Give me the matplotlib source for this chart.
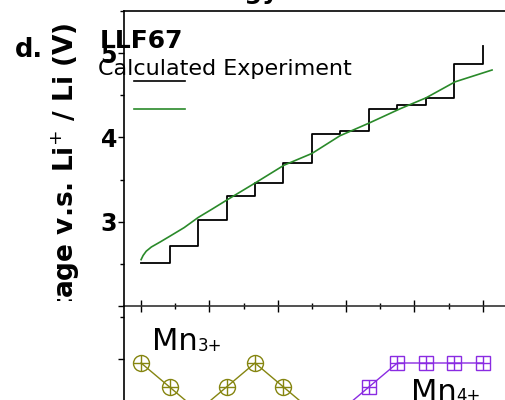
import numpy as np
import matplotlib
matplotlib.use('Agg')
import matplotlib.pyplot as plt
from matplotlib.lines import Line2D
from matplotlib.ticker import MultipleLocator
from matplotlib.transforms import Bbox, TransformedBbox

# experiment: 12 plateaus, last value is the end point
exp_x = np.arange(13) / 12.0
exp_v = [2.51, 2.71, 3.02, 3.30, 3.46, 3.70, 4.04, 4.08, 4.34, 4.38, 4.47, 4.87, 5.08]

# calculated curve
calc_x = [0.0, 0.006, 0.015, 0.03, 0.056, 0.085, 0.126, 0.167, 0.208, 0.252, 0.334,
          0.418, 0.50, 0.582, 0.667, 0.758, 0.834, 0.919, 1.027]
calc_v = [2.55, 2.60, 2.65, 2.70, 2.76, 2.83, 2.93, 3.05, 3.15, 3.26, 3.46,
          3.67, 3.81, 4.02, 4.17, 4.34, 4.47, 4.66, 4.80]

# Mn oxidation states in the lower panel
mn_x = np.arange(13) / 12.0
mn3 = [2, 1, 0, 1, 2, 1, 0, 0, 0, 0, 0, 0, 0]
mn4 = [0, 0, 0, 0, 0, 0, 0, 0, 1, 2, 2, 2, 2]

W, H = 506, 400
fig = plt.figure(figsize=(W / 100, H / 100), dpi=100)


def fx(px):
    return px / W


def fy(py):
    return 1 - py / H


olive = '#858510'
purple = '#8a2be2'
green = '#2a8a2a'

# upper panel
ax = fig.add_axes([fx(124), fy(306), (517 - 124) / W, (306 - 11) / H])
ax.plot(exp_x, exp_v, drawstyle='steps-post', color='black', lw=1.3)
ax.plot(calc_x, calc_v, color=green, lw=1.2)
ax.set_xlim(-0.05, 1.1)
ax.set_ylim(2.0, 5.5)
ax.set_yticks([2, 3, 4, 5])
ax.set_yticklabels(['', '3', '4', '5'])
ax.yaxis.set_minor_locator(MultipleLocator(0.5))
ax.xaxis.set_major_locator(MultipleLocator(0.2))
ax.xaxis.set_minor_locator(MultipleLocator(0.1))
ax.tick_params(axis='y', which='major', direction='out', length=4, width=1, pad=1,
               labelsize=17)
ax.tick_params(axis='y', which='minor', direction='out', length=3, width=1)
ax.tick_params(axis='x', which='major', direction='inout', length=8, width=1,
               labelbottom=False, top=False)
ax.tick_params(axis='x', which='minor', direction='inout', length=4, width=1, top=False)
for lab in ax.get_yticklabels():
    lab.set_fontweight('bold')
for s in ax.spines.values():
    s.set_linewidth(1.2)
ax.spines['bottom'].set_color('#333333')

# lower panel
ax2 = fig.add_axes([fx(124), fy(450), (517 - 124) / W, (450 - 306) / H])
ax2.plot(mn_x, mn3, color=olive, lw=1, marker='o', ms=11.5, mfc='none', mew=1)
ax2.plot(mn_x, mn3, ls='none', marker='+', ms=11.5, color=olive, mew=1)
ax2.plot(mn_x, mn4, color=purple, lw=1, marker='s', ms=9.5, mfc='none', mew=1)
ax2.plot(mn_x, mn4, ls='none', marker='+', ms=9.5, color=purple, mew=1)
ax2.set_xlim(-0.05, 1.1)
ax2.set_ylim(-1.625, 4.375)
ax2.set_xticks([])
ax2.set_yticks([2.17])
ax2.set_yticks([3.92], minor=True)
ax2.set_yticklabels([])
ax2.tick_params(axis='y', which='major', direction='out', length=4, width=1)
ax2.tick_params(axis='y', which='minor', direction='out', length=3, width=1)
ax2.spines['top'].set_visible(False)
ax2.spines['left'].set_linewidth(1.2)
ax2.patch.set_alpha(0)

# texts
fig.text(fx(279), fy(-1), 'Energy', ha='right', va='baseline', fontsize=18,
         fontweight='bold')
fig.text(fx(15), fy(57), 'd.', ha='left', va='baseline', fontsize=18.5, fontweight='bold')
fig.text(fx(100), fy(48), 'LLF67', ha='left', va='baseline', fontsize=18,
         fontweight='bold')
fig.text(fx(98), fy(75), 'Calculated Experiment', ha='left', va='baseline', fontsize=16)
fig.add_artist(Line2D([fx(134), fx(185)], [fy(81), fy(81)], transform=fig.transFigure,
                      color='black', lw=1.2))
fig.add_artist(Line2D([fx(134), fx(185)], [fy(109), fy(109)], transform=fig.transFigure,
                      color=green, lw=1.2))

yl = fig.text(fx(66), fy(22), 'Voltage v.s. Li$^{+}$ / Li (V)', rotation=90,
              ha='center', va='top', fontsize=19, fontweight='bold')
yl.set_clip_box(TransformedBbox(Bbox([[0, fy(301)], [fx(118), 1]]), fig.transFigure))
yl.set_clip_on(True)

fig.text(fx(152), fy(350), 'Mn', ha='left', va='baseline', fontsize=22)
fig.text(fx(198), fy(351), '3+', ha='left', va='baseline', fontsize=12)
fig.text(fx(411), fy(401), 'Mn', ha='left', va='baseline', fontsize=22)
fig.text(fx(456), fy(401), '4+', ha='left', va='baseline', fontsize=12)

fig.savefig('out.png', dpi=100)
